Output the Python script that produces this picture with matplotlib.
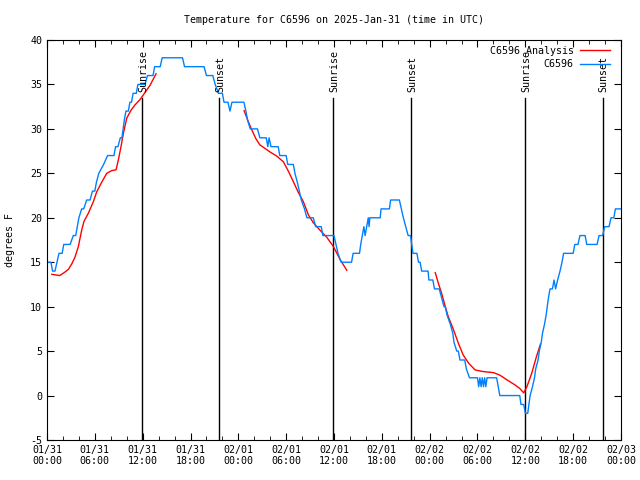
import matplotlib
matplotlib.use("Agg")
import matplotlib.pyplot as plt
from matplotlib.ticker import MultipleLocator

plt.rcParams['font.family'] = ['DejaVu Sans Mono']
plt.rcParams['axes.unicode_minus'] = False

# ------------------------
# Data (hours since 01/31 00:00 UTC, degrees F)
# ------------------------
obs_hours = [0.0, 0.5, 0.7, 1.0, 1.25, 1.5, 1.9, 2.1, 2.9, 3.3, 3.6, 3.8, 4.0, 4.35, 4.6,
             4.98, 5.4, 5.7, 6.0, 6.2, 6.5, 7.1, 7.6, 8.4, 8.6, 8.9, 9.2, 9.4, 9.55, 9.7,
             9.9, 10.2, 10.4, 10.6, 10.8, 11.2, 11.4, 12.3, 12.6, 13.3, 13.5, 14.2, 14.45,
             17.0, 17.25, 19.7, 20.0, 20.8, 21.1, 21.5, 22.0, 22.2, 22.7, 22.95, 23.2, 24.7,
             24.95, 25.15, 25.5, 26.4, 26.7, 27.5, 27.7, 27.85, 28.1, 29.0, 29.2, 30.0, 30.2,
             30.9, 31.1, 31.4, 31.65, 31.9, 32.3, 32.6, 33.4, 33.7, 34.4, 34.6, 36.0, 36.25,
             36.5, 36.9, 38.2, 38.4, 39.2, 39.35, 39.55, 39.75, 39.9, 40.1, 40.3, 40.4, 40.5,
             41.8, 41.9, 42.95, 43.1, 44.2, 44.45, 44.7, 45.0, 45.3, 45.6, 45.75, 45.9, 46.4,
             46.6, 46.8, 47.0, 47.8, 47.9, 48.4, 48.6, 49.2, 49.5, 49.8, 49.95, 50.2, 50.6,
             50.9, 51.05, 51.4, 51.6, 51.8, 52.4, 52.6, 53.0, 54.0, 54.15, 54.3, 54.45, 54.6,
             54.75, 54.9, 55.05, 55.2, 56.4, 56.6, 56.8, 59.3, 59.45, 59.8, 60.0, 60.3, 60.45,
             60.6, 60.9, 61.15, 61.3, 61.6, 61.75, 62.0, 62.15, 62.4, 62.6, 62.75, 62.9, 63.1,
             63.4, 63.6, 63.8, 64.05, 64.35, 64.6, 64.8, 66.0, 66.2, 66.6, 66.85, 67.5, 67.7,
             69.0, 69.25, 69.7, 69.95, 70.5, 70.75, 71.1, 71.3, 72.0]
obs_temp = [15, 15, 14, 14, 15, 16, 16, 17, 17, 18, 18, 19, 20, 21, 21,
            22, 22, 23, 23, 24, 25, 26, 27, 27, 28, 28, 29, 29, 30, 31,
            32, 32, 33, 33, 34, 34, 35, 35, 36, 36, 37, 37, 38,
            38, 37, 37, 36, 36, 35, 34, 34, 33, 33, 32, 33, 33,
            32, 31, 30, 30, 29, 29, 28, 29, 28, 28, 27, 27, 26,
            26, 25, 24, 23, 22, 21, 20, 20, 19, 19, 18, 18, 17,
            16, 15, 15, 16, 16, 17, 18, 19, 18, 19, 20, 19, 20,
            20, 21, 21, 22, 22, 21, 20, 19, 18, 18, 17, 16, 16,
            15, 15, 14, 14, 13, 13, 12, 12, 11, 10, 10, 9, 8,
            7, 6, 5, 5, 4, 4, 3, 2, 2, 1, 2, 1, 2,
            1, 2, 1, 2, 2, 1, 0, 0, -1, -1, -2, -2, -1,
            0, 1, 2, 3, 4, 5, 6, 7, 8, 9, 10, 11, 12,
            12, 13, 12, 13, 14, 15, 16, 16, 17, 17, 18, 18, 17,
            17, 18, 18, 19, 19, 20, 20, 21, 21]

ana1_hours = [0.6, 1.6, 2.26, 2.68, 3.1, 3.5, 3.93, 4.35, 4.64, 5.18, 5.81, 6.23, 6.86,
              7.49, 8.1, 8.66, 8.95, 9.28, 9.58, 10.0, 10.54, 11.04, 11.67, 12.3, 12.92, 13.68]
ana1_temp = [13.64, 13.5, 13.9, 14.2, 14.8, 15.55, 16.75, 18.6, 19.6, 20.5, 21.8, 22.9, 24.0,
             25.0, 25.3, 25.4, 26.5, 28.0, 29.5, 31.2, 32.1, 32.7, 33.3, 34.1, 34.9, 36.2]

ana2_hours = [24.72, 25.26, 25.68, 26.2, 26.7, 27.35, 27.98, 28.8, 29.65, 30.3, 30.9, 31.5,
              32.16, 32.8, 33.4, 34.25, 35.1, 35.9, 36.8, 37.6]
ana2_temp = [32.05, 30.8, 29.9, 28.9, 28.2, 27.8, 27.4, 26.95, 26.3, 25.2, 24.06, 22.9,
             21.8, 20.3, 19.45, 18.6, 17.8, 16.8, 15.25, 14.1]

ana3_hours = [48.7, 49.1, 49.5, 49.9, 50.3, 51.0, 51.6, 52.2, 52.9, 53.7, 54.7, 56.0, 56.8,
              57.7, 58.7, 59.3, 59.8, 60.2, 60.8, 61.4, 61.9]
ana3_temp = [13.83, 12.6, 11.5, 10.2, 8.96, 7.38, 5.88, 4.57, 3.63, 2.88, 2.7, 2.58, 2.3,
             1.76, 1.2, 0.8, 0.3, 1.0, 2.5, 4.4, 5.8]

sun_hours = [11.88, 21.6, 35.93, 45.7, 60.0, 69.68]
sun_labels = ["Sunrise", "Sunset", "Sunrise", "Sunset", "Sunrise", "Sunset"]

tick_hours = list(range(0, 73, 6))
tick_labels = ["01/31\n00:00", "01/31\n06:00", "01/31\n12:00", "01/31\n18:00",
               "02/01\n00:00", "02/01\n06:00", "02/01\n12:00", "02/01\n18:00",
               "02/02\n00:00", "02/02\n06:00", "02/02\n12:00", "02/02\n18:00",
               "02/03\n00:00"]

fs = 7.2

# ------------------------
# Plot
# ------------------------
fig = plt.figure(figsize=(6.4, 4.8), dpi=100)
ax = fig.add_axes([47 / 640, 40 / 480, 574 / 640, 400 / 480])

for h, lab in zip(sun_hours, sun_labels):
    ax.plot([h, h], [-5, 33.5], color="black", lw=1)
    ax.text(h + 0.15, 34.1, lab, rotation=90, ha="center", va="bottom", fontsize=fs)

ax.plot(ana1_hours, ana1_temp, color="red", lw=1, label="C6596 Analysis")
ax.plot(ana2_hours, ana2_temp, color="red", lw=1)
ax.plot(ana3_hours, ana3_temp, color="red", lw=1)
ax.plot(obs_hours, obs_temp, color="#0080ff", lw=1, label="C6596")

ax.set_xlim(0, 72)
ax.set_ylim(-5, 40)
ax.set_xticks(tick_hours)
ax.set_xticklabels(tick_labels, fontsize=fs)
ax.xaxis.set_minor_locator(MultipleLocator(2))
ax.yaxis.set_major_locator(MultipleLocator(5))
ax.tick_params(axis="both", which="both", direction="in", top=True, right=True, labelsize=fs)
ax.tick_params(which="major", length=5)
ax.tick_params(which="minor", length=3)

ax.set_title("Temperature for C6596 on 2025-Jan-31 (time in UTC)", fontsize=fs, pad=12)
ax.set_ylabel("degrees F", fontsize=fs, labelpad=11)

ax.legend(loc="upper right", bbox_to_anchor=(0.991, 1.0), frameon=False,
          markerfirst=False, fontsize=fs, handlelength=3.0, handletextpad=0.6,
          labelspacing=0.35, borderaxespad=0.4, borderpad=0.2)

fig.savefig("out.png", dpi=100)
